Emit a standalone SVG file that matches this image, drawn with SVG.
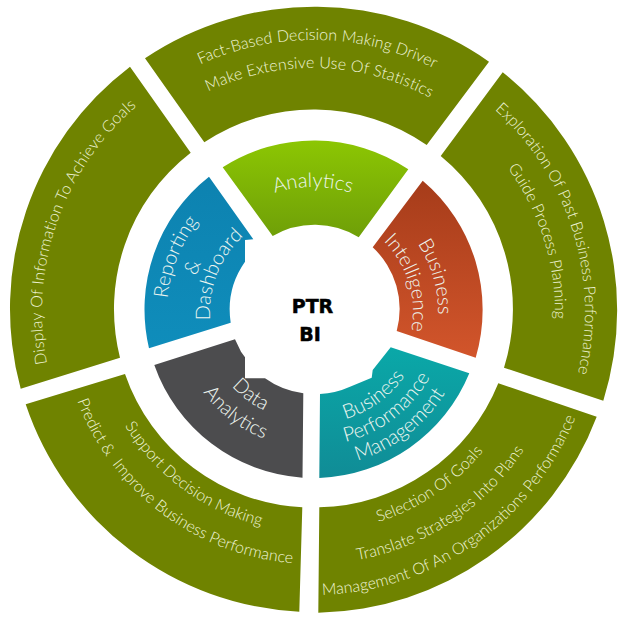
<svg xmlns="http://www.w3.org/2000/svg" width="627" height="619" viewBox="0 0 627 619">
<style>
.o{fill:#6f8300}
.t{font-family:"Lato","Open Sans","Liberation Sans",sans-serif;font-weight:300;text-anchor:middle;white-space:pre}
.to{font-size:16px;fill:#eef3d6}
.ti{font-size:20px;fill:#eef6f0}
.c{font-family:"DejaVu Sans",sans-serif;font-weight:700;font-size:19px;fill:#000;stroke:#000;stroke-width:.5;text-anchor:middle}
</style>
<defs>
<linearGradient id="ga" x1="0" y1="0" x2="0" y2="1"><stop offset="0" stop-color="#8cc603"/><stop offset="1" stop-color="#6f9f08"/></linearGradient>
<linearGradient id="gr" x1="0" y1="0" x2="0" y2="1"><stop offset="0" stop-color="#0d82b0"/><stop offset="1" stop-color="#0f8dbb"/></linearGradient>
<linearGradient id="gb" x1="0" y1="0" x2="0" y2="1"><stop offset="0" stop-color="#a63c1a"/><stop offset="1" stop-color="#d2552b"/></linearGradient>
<linearGradient id="gp" x1="0" y1="0" x2="0" y2="1"><stop offset="0" stop-color="#0aa8a8"/><stop offset="1" stop-color="#108c96"/></linearGradient>
<path id="t272" d="M41 312A272 272 0 0 1 585 312"/>
<path id="t271" d="M42 312A271 271 0 0 1 584 312"/>
<path id="t244" d="M69 312A244 244 0 0 1 557 312"/>
<path id="t242" d="M71 312A242 242 0 0 1 555 312"/>
<path id="t125" d="M188 312A125 125 0 0 1 438 312"/>
<path id="t146" d="M167 312A146 146 0 0 1 459 312"/>
<path id="t122" d="M191 312A122 122 0 0 1 435 312"/>
<path id="t103" d="M210 312A103 103 0 0 1 416 312"/>
<path id="t100" d="M213 312A100 100 0 0 1 413 312"/>
<path id="b220" d="M93 312A220 220 0 0 0 533 312"/>
<path id="b252" d="M61 312A252 252 0 0 0 565 312"/>
<path id="b283" d="M30 312A283 283 0 0 0 596 312"/>
<path id="b112" d="M201 312A112 112 0 0 0 425 312"/>
<path id="b134" d="M179 312A134 134 0 0 0 447 312"/>
<path id="b155" d="M158 312A155 155 0 0 0 468 312"/>
<path id="b110" d="M203 312A110 110 0 0 0 423 312"/>
<path id="b136" d="M177 312A136 136 0 0 0 449 312"/>
</defs>
<rect width="627" height="619" fill="#fff"/>

<g id="outer-top">
<path class="o" d="M145 58.3A304 304 0 0 1 489 61.7L426.7 145A198 198 0 0 0 204.3 142.3Z"/>
<text class="t to" transform="rotate(1 313 312)"><textPath href="#t272" startOffset="50%">Fact-Based Decision Making Driver</textPath></text>
<text class="t to" transform="rotate(1.6 313 312)" letter-spacing=".15"><textPath href="#t244" startOffset="50%">Make Extensive Use Of Statistics</textPath></text>
</g>
<g id="outer-right">
<path class="o" d="M502.7 72.3A304 304 0 0 1 603.3 400.7L504 367.7A198 198 0 0 0 440.7 156Z"/>
<text class="t to" transform="rotate(72.5 313 312)"><textPath href="#t272" startOffset="50%">Exploration Of Past Business Performance</textPath></text>
<text class="t to" transform="rotate(72.6 313 312)"><textPath href="#t242" startOffset="50%">Guide Process Planning</textPath></text>
</g>
<g id="outer-bottom-right">
<path class="o" d="M596.7 416.7A304 304 0 0 1 318.3 612.7L319.3 507.3A198 198 0 0 0 498.3 383.3Z"/>
<text class="t to" transform="rotate(-34 313 312)"><textPath href="#b220" startOffset="50%">Selection Of Goals</textPath></text>
<text class="t to" transform="rotate(-33.5 313 312)"><textPath href="#b252" startOffset="50%">Translate Strategies Into Plans</textPath></text>
<text class="t to" transform="rotate(-35 313 312)"><textPath href="#b283" startOffset="50%">Management Of An Organizations Performance</textPath></text>
</g>
<g id="outer-bottom-left">
<path class="o" d="M299.3 611.7A304 304 0 0 1 25.7 404.3L125 374A198 198 0 0 0 302.3 507.3Z"/>
<text class="t to" transform="rotate(36.3 313 312)"><textPath href="#b220" startOffset="50%">Support Decision Making</textPath></text>
<text class="t to" transform="rotate(37 313 312)"><textPath href="#b252" startOffset="50%">Predict &amp;  Improve Business Performance</textPath></text>
</g>
<g id="outer-left">
<path class="o" d="M20.7 388.7A304 304 0 0 1 130 66.7L190.7 152.7A198 198 0 0 0 120 357.7Z"/>
<text class="t to" transform="rotate(-70.8 313 312)" letter-spacing=".2"><textPath href="#t271" startOffset="50%">Display Of Information To Achieve Goals</textPath></text>
</g>

<g id="analytics">
<path fill="url(#ga)" d="M222.7 167.3A169 169 0 0 1 408.3 169.3L358.7 237.3A84 84 0 0 0 272.7 236Z"/>
<text class="t ti"><textPath href="#t125" startOffset="50%">Analytics</textPath></text>
</g>
<g id="business-intelligence">
<path fill="url(#gb)" d="M422.7 180.7A169 169 0 0 1 475.7 357.7L396.7 331A84 84 0 0 0 372.7 247.3Z"/>
<text class="t ti" transform="rotate(74 313 312)"><textPath href="#t125" startOffset="50%">Business</textPath></text>
<text class="t ti" transform="rotate(72.8 313 312)"><textPath href="#t100" startOffset="50%">Intelligence</textPath></text>
</g>
<g id="business-performance-management">
<path fill="url(#gp)" d="M390.7 347.3L469.3 373.3A169 169 0 0 1 319.3 478L320 394A84 84 0 0 0 350 386.7L371.7 377.7L372.7 370Z"/>
<text class="t ti" transform="rotate(-36 313 312)"><textPath href="#b112" startOffset="50%">Business</textPath></text>
<text class="t ti" transform="rotate(-37.5 313 312)"><textPath href="#b134" startOffset="50%">Performance</textPath></text>
<text class="t ti" transform="rotate(-37.5 313 312)"><textPath href="#b155" startOffset="50%">Management</textPath></text>
</g>
<g id="data-analytics">
<path fill="#4c4c4e" d="M235 339.3L241 351.7L245 357.3L245 378.3L265 378.3A84 84 0 0 0 303.3 393.3L302.5 477.7A169 169 0 0 1 154.3 365Z"/>
<text class="t ti" transform="rotate(37 313 312)"><textPath href="#b110" startOffset="50%">Data</textPath></text>
<text class="t ti" transform="rotate(37.5 313 312)"><textPath href="#b136" startOffset="50%">Analytics</textPath></text>
</g>
<g id="reporting-dashboard">
<path fill="url(#gr)" d="M209 176.7L253.3 239.3L245 240L245 261.7A84 84 0 0 0 230.7 322.7L149 348.3A169 169 0 0 1 209 176.7Z"/>
<text class="t ti" transform="rotate(-68.2 313 312)"><textPath href="#t146" startOffset="50%">Reporting</textPath></text>
<text class="t ti" transform="rotate(-69.6 313 312)"><textPath href="#t122" startOffset="50%">&amp;</textPath></text>
<text class="t ti" transform="rotate(-68.5 313 312)"><textPath href="#t103" startOffset="50%">Dashboard</textPath></text>
</g>
<g id="center">
<text class="c" x="312.5" y="312.5">PTR</text>
<text class="c" x="310" y="341">BI</text>
</g>
</svg>
